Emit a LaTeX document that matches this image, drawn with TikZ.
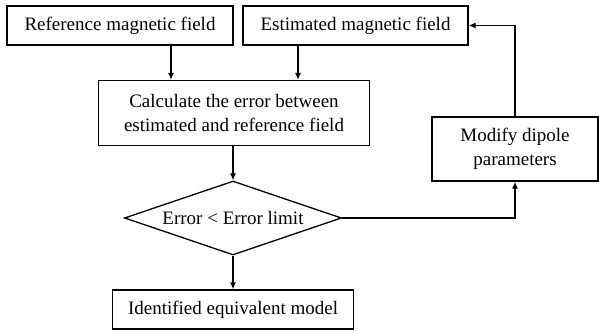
\documentclass[tikz,border=0pt]{standalone}
\usepackage{fontspec}
\setmainfont{Liberation Serif}
\usetikzlibrary{shapes.geometric,arrows.meta}

\begin{document}
\begin{tikzpicture}[
  x=1pt, y=-1pt,
  font=\fontsize{19}{24}\selectfont,
  every node/.style={align=center},
  >={Latex[length=7pt,width=6pt]},
  line width=1.3pt,
  box/.style={draw, minimum height=39pt, inner sep=2pt},
  bigbox/.style={draw, minimum height=65pt, inner sep=2pt},
  decision/.style={draw, diamond, minimum width=217pt, minimum height=74pt, inner sep=0pt, aspect=2.9},
]
\useasboundingbox (0,0) rectangle (599,331);
\node[box, minimum width=226pt] (ref) at (120, 25.5) {Reference magnetic field};
\node[box, minimum width=225pt] (est) at (355.5, 25.5) {Estimated magnetic field};
\node[bigbox, minimum width=271pt] (calc) at (234, 113) {Calculate the error between\\estimated and reference field};
\node[decision] (check) at (233, 218) {Error < Error limit};
\node[box, minimum width=241pt] (model) at (233, 309.5) {Identified equivalent model};
\node[bigbox, minimum width=166pt, minimum height=64pt] (modify) at (515, 149) {Modify dipole\\parameters};
\draw[->] ([xshift=51pt]ref.south) -- ([xshift=51pt]ref.south |- calc.north);
\draw[->] ([xshift=-57.5pt]est.south) -- ([xshift=-57.5pt]est.south |- calc.north);
\draw[->] (calc.south -| check.north) -- (check.north);
\draw[->] (check.south) -- (model.north);
\draw[->] (check.east) -| (modify.south);
\draw[->] (modify.north) |- (est.east);
\end{tikzpicture}
\end{document}
